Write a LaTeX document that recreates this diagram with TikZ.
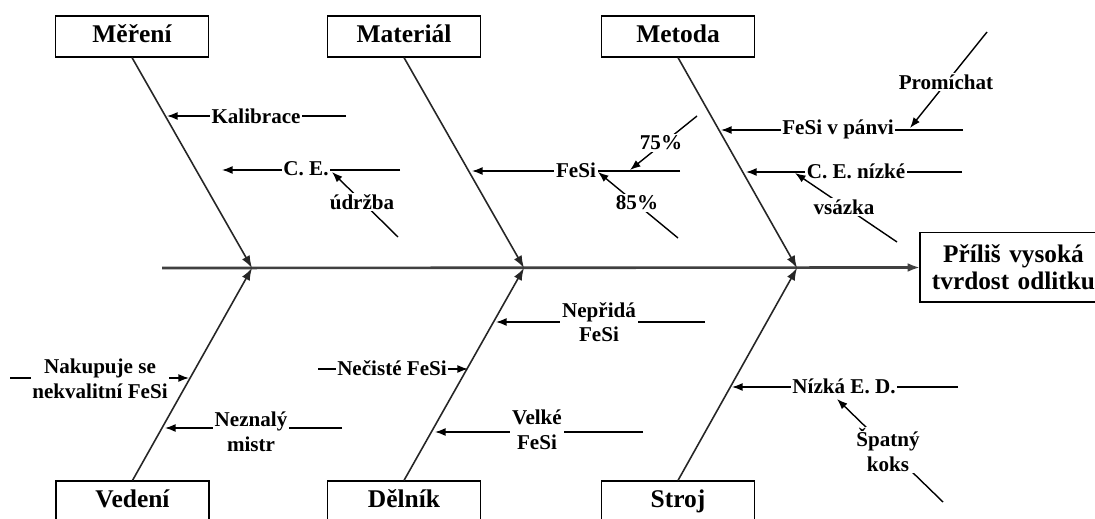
\documentclass[tikz,border=0pt]{standalone}
\usepackage{fontspec}
\setmainfont{Liberation Serif}
\usetikzlibrary{arrows.meta}
\begin{document}
\begin{tikzpicture}[x=0.02cm,y=-0.02cm,
  cause/.style={draw,line width=0.8pt,minimum width=87.3pt,minimum height=23.2pt,
    inner sep=0pt,text height=10pt,text depth=3pt,font=\fontsize{14.5}{16}\selectfont\bfseries},
  effect/.style={anchor=west,text width=106pt,minimum height=39.1pt,
    inner sep=0pt,align=center,font=\fontsize{14.4}{15.5}\selectfont\bfseries},
  frame/.style={line width=0.8pt},
  lab/.style={fill=white,inner sep=1pt,align=center,font=\fontsize{12}{14}\selectfont\bfseries},
  spine/.style={line width=1.5pt,black!75,-{Latex[length=7pt,width=5pt]}},
  bone/.style={line width=0.9pt,black!85,-{Latex[length=7pt,width=5pt]}},
  sub/.style={line width=0.8pt,-{Latex[length=6pt,width=4.5pt]}}]
\clip (0,0) rectangle (1095,519);
\fill[white] (0,0) rectangle (1095,519);

% category boxes
\node[cause] (mer) at (132,36.5) {Měření};
\node[cause] (mat) at (404,36.5) {Materiál};
\node[cause] (met) at (678,36.5) {Metoda};
\node[cause] (ved) at (132.5,501.5) {Vedení};
\node[cause] (del) at (404,501.5) {Dělník};
\node[cause] (str) at (678,501.5) {Stroj};

% effect box (runs past the right edge) and spine
\node[effect] (eff) at (920,267.5) {Příliš vysoká\\tvrdost odlitku};
\draw[frame] (eff.north east) -- (eff.north west) -- (eff.south west) -- (eff.south east);
\coordinate (sp0) at (162,268);
\draw[spine] (sp0) -- (eff.west);

% junctions on the spine
\coordinate (j1) at (252,268);
\coordinate (j2) at (524,268);
\coordinate (j3) at (797,268);
\draw[bone] (mer.south) -- (j1);
\draw[bone] (mat.south) -- (j2);
\draw[bone] (met.south) -- (j3);
\draw[bone] (ved.north) -- (j1);
\draw[bone] (del.north) -- (j2);
\draw[bone] (str.north) -- (j3);

% Měření
\coordinate (kalR) at (346,116); \coordinate (kalT) at (167,116);
\draw[sub] (kalR) -- (kalT);
\node[lab] (kal) at (256,116) {Kalibrace};
\coordinate (ceR) at (400,170); \coordinate (ceT) at (222,170);
\draw[sub] (ceR) -- (ceT);
\node[lab] (ce) at (306,169) {C. E.};
\coordinate (udR) at (398,237); \coordinate (udT) at (332,172);
\draw[sub] (udR) -- (udT);
\node[lab] (ud) at (362,202) {údržba};

% Materiál
\coordinate (feR) at (680,171); \coordinate (feT) at (472,171);
\draw[sub] (feR) -- (feT);
\node[lab] (fe) at (576,170) {FeSi};
\coordinate (p75R) at (697,116); \coordinate (p75T) at (630,170);
\draw[sub] (p75R) -- (p75T);
\node[lab] (p75) at (661,143) {75\%};
\coordinate (p85R) at (678,238); \coordinate (p85T) at (598,172);
\draw[sub] (p85R) -- (p85T);
\node[lab] (p85) at (637,203) {85\%};

% Metoda
\coordinate (pvR) at (963,130); \coordinate (pvT) at (721,130);
\draw[sub] (pvR) -- (pvT);
\node[lab] (pv) at (838,129) {FeSi v pánvi};
\coordinate (prR) at (987,32); \coordinate (prT) at (910,128);
\draw[sub] (prR) -- (prT);
\node[lab] (pr) at (946,82) {Promíchat};
\coordinate (cnR) at (962,172); \coordinate (cnT) at (746,172);
\draw[sub] (cnR) -- (cnT);
\node[lab] (cn) at (856,171) {C. E. nízké};
\coordinate (vsR) at (897,242); \coordinate (vsT) at (795,173);
\draw[sub] (vsR) -- (vsT);
\node[lab] (vs) at (844,207) {vsázka};

% Vedení
\coordinate (nkL) at (10,378); \coordinate (nkT) at (189,378);
\draw[sub] (nkL) -- (nkT);
\node[lab] (nk) at (100,379) {Nakupuje se\\nekvalitní FeSi};
\coordinate (nzR) at (342,428); \coordinate (nzT) at (165,428);
\draw[sub] (nzR) -- (nzT);
\node[lab] (nz) at (251,432) {Neznalý\\mistr};

% Dělník
\coordinate (npR) at (705,322); \coordinate (npT) at (496,322);
\draw[sub] (npR) -- (npT);
\node[lab] (np) at (599,322) {Nepřidá\\FeSi};
\coordinate (ncL) at (318,369); \coordinate (ncT) at (468,369);
\draw[sub] (ncL) -- (ncT);
\node[lab] (nc) at (392,368) {Nečisté FeSi};
\coordinate (vkR) at (643,432); \coordinate (vkT) at (435,432);
\draw[sub] (vkR) -- (vkT);
\node[lab] (vk) at (537,430) {Velké\\FeSi};

% Stroj
\coordinate (ezR) at (958,387); \coordinate (ezT) at (732,387);
\draw[sub] (ezR) -- (ezT);
\node[lab] (ez) at (844,386) {Nízká E. D.};
\coordinate (skR) at (943,502); \coordinate (skT) at (837,399);
\draw[sub] (skR) -- (skT);
\node[lab] (sk) at (888,450) {Špatný\\koks};
\end{tikzpicture}
\end{document}
